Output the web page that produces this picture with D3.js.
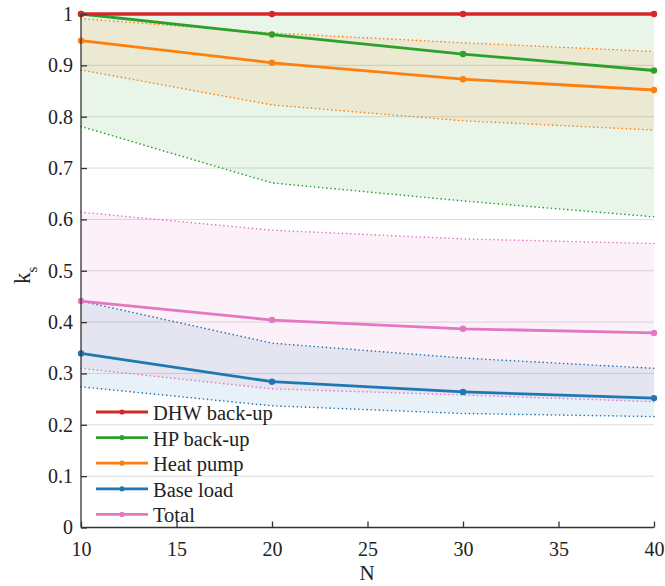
<!DOCTYPE html>
<html>
<head>
<meta charset="utf-8">
<script src="https://cdn.jsdelivr.net/npm/d3@7/dist/d3.min.js"></script>
<style>
  html, body { margin: 0; padding: 0; background: #fff; }
</style>
</head>
<body>
<svg id="chart" width="665" height="586"></svg>
<script>
// Number of dwellings
const nValues = [10, 20, 30, 40];
const xTicks = [10, 15, 20, 25, 30, 35, 40];
const yTicks = [0, 0.1, 0.2, 0.3, 0.4, 0.5, 0.6, 0.7, 0.8, 0.9, 1];

// Simultaneity factor: mean and band limits per load type
const dhwMean  = [1, 1, 1, 1];
const dhwUpper = [1, 1, 1, 1];
const dhwLower = [1, 1, 1, 1];

const hpbMean  = [1.0, 0.96, 0.922, 0.89];
const hpbUpper = [1.0, 1.0, 1.0, 1.0];
const hpbLower = [0.781, 0.671, 0.636, 0.605];

const hpMean  = [0.948, 0.905, 0.873, 0.852];
const hpUpper = [0.991, 0.963, 0.944, 0.927];
const hpLower = [0.891, 0.823, 0.792, 0.774];

const baseMean  = [0.339, 0.284, 0.264, 0.252];
const baseUpper = [0.441, 0.359, 0.330, 0.310];
const baseLower = [0.274, 0.237, 0.222, 0.216];

const totalMean  = [0.441, 0.404, 0.387, 0.379];
const totalUpper = [0.614, 0.579, 0.562, 0.553];
const totalLower = [0.310, 0.270, 0.258, 0.245];

const seriesNames = ["DHW back-up", "HP back-up", "Heat pump", "Base load", "Total"];
const seriesColors = ["#d62728", "#2ca02c", "#ff7f0e", "#1f77b4", "#e377c2"];

const series = [
  { name: seriesNames[0], color: seriesColors[0], mean: dhwMean, upper: dhwUpper, lower: dhwLower },
  { name: seriesNames[1], color: seriesColors[1], mean: hpbMean, upper: hpbUpper, lower: hpbLower },
  { name: seriesNames[2], color: seriesColors[2], mean: hpMean, upper: hpUpper, lower: hpLower },
  { name: seriesNames[3], color: seriesColors[3], mean: baseMean, upper: baseUpper, lower: baseLower },
  { name: seriesNames[4], color: seriesColors[4], mean: totalMean, upper: totalUpper, lower: totalLower }
];

const FONT = "'Liberation Serif', 'Times New Roman', Tinos, 'DejaVu Serif', serif";

const svg = d3.select("#chart");
const x = d3.scaleLinear().domain([10, 40]).range([81, 654]);
const y = d3.scaleLinear().domain([0, 1]).range([527.5, 14]);

// Horizontal grid
svg.append("g").selectAll("line")
  .data(yTicks.filter(v => v > 0))
  .join("line")
  .attr("x1", x(10)).attr("x2", x(40))
  .attr("y1", d => y(d)).attr("y2", d => y(d))
  .attr("stroke", "#dcdcdc").attr("stroke-width", 1);

// Shaded bands
const area = d3.area()
  .x((d, i) => x(nValues[i]))
  .y0(d => y(d[0]))
  .y1(d => y(d[1]));

const bandOrder = [1, 2, 4, 3, 0];
bandOrder.forEach(k => {
  const s = series[k];
  const pts = s.lower.map((v, i) => [v, s.upper[i]]);
  svg.append("path")
    .attr("d", area(pts))
    .attr("fill", s.color)
    .attr("fill-opacity", 0.1);
});

// Dotted band limits
const line = d3.line().x((d, i) => x(nValues[i])).y(d => y(d));
bandOrder.forEach(k => {
  const s = series[k];
  [s.upper, s.lower].forEach(arr => {
    svg.append("path")
      .attr("d", line(arr))
      .attr("fill", "none")
      .attr("stroke", s.color)
      .attr("stroke-width", 1.6)
      .attr("stroke-linecap", "round")
      .attr("stroke-dasharray", "0.1,4");
  });
});

// Mean lines with markers
[4, 3, 2, 1, 0].forEach(k => {
  const s = series[k];
  svg.append("path")
    .attr("d", line(s.mean))
    .attr("fill", "none")
    .attr("stroke", s.color)
    .attr("stroke-width", k === 0 ? 3.5 : 2.8);
  svg.append("g").selectAll("circle")
    .data(s.mean)
    .join("circle")
    .attr("cx", (d, i) => x(nValues[i]))
    .attr("cy", d => y(d))
    .attr("r", 3.2)
    .attr("fill", s.color);
});

// Axes
const axisColor = "#333";
const xAxis = svg.append("g").attr("transform", `translate(0,${y(0)})`)
  .call(d3.axisBottom(x).tickValues(xTicks).tickSize(-6).tickPadding(14).tickFormat(d3.format("d")));
const yAxis = svg.append("g").attr("transform", `translate(${x(10)},0)`)
  .call(d3.axisLeft(y).tickValues(yTicks).tickSize(-6).tickPadding(8).tickFormat(d => d === 0 || d === 1 ? String(d) : d3.format(".1f")(d)));
[xAxis, yAxis].forEach(g => {
  g.attr("font-family", null).attr("font-size", null);
  g.select(".domain").attr("stroke", axisColor).attr("stroke-width", 1.3);
  g.selectAll(".tick line").attr("stroke", axisColor).attr("stroke-width", 1.3);
  g.selectAll(".tick text")
    .style("font-family", FONT)
    .style("font-size", "20px")
    .attr("fill", "#222");
});
xAxis.select(".domain").attr("d", `M${x(10)},0H${x(40)}`);
yAxis.select(".domain").attr("d", `M0,${y(0)}V${y(1)}`);

// Axis titles
svg.append("text")
  .attr("x", 367).attr("y", 580)
  .attr("text-anchor", "middle")
  .style("font-family", FONT)
  .style("font-size", "21px")
  .attr("fill", "#222")
  .text("N");

const yTitle = svg.append("text")
  .attr("transform", "translate(30,284) rotate(-90)")
  .style("font-family", FONT)
  .style("font-size", "23px")
  .attr("fill", "#222");
yTitle.append("tspan").text("k");
yTitle.append("tspan").style("font-size", "15px").attr("dy", 7).text("s");

// Legend
const legend = svg.append("g");
series.forEach((s, i) => {
  const ly = 412 + i * 25.6;
  legend.append("line")
    .attr("x1", 96).attr("x2", 148)
    .attr("y1", ly).attr("y2", ly)
    .attr("stroke", s.color).attr("stroke-width", 2.8);
  legend.append("circle")
    .attr("cx", 122).attr("cy", ly).attr("r", 2.6)
    .attr("fill", s.color);
  legend.append("text")
    .attr("x", 153).attr("y", ly + 8)
    .style("font-family", FONT)
    .style("font-size", "20.5px")
    .attr("fill", "#222")
    .text(s.name);
});
</script>
</body>
</html>
